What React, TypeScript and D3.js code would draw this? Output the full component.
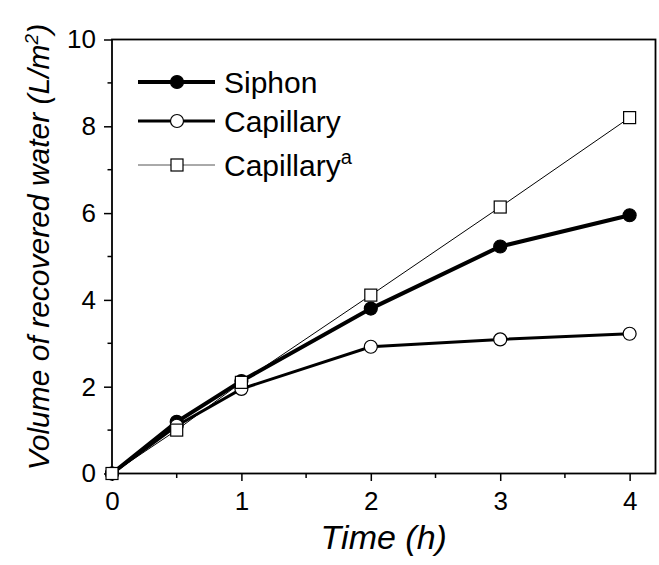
import React, { useEffect, useRef } from 'react';
import * as d3 from 'd3';

const times = [0, 0.5, 1, 2, 3, 4];
const siphon = [0, 1.19, 2.13, 3.8, 5.23, 5.95];
const capillary = [0, 1.1, 1.95, 2.92, 3.09, 3.22];
const capillaryA = [0, 1.0, 2.1, 4.11, 6.14, 8.2];
const xTicks = [0, 1, 2, 3, 4];
const yTicks = [0, 2, 4, 6, 8, 10];

export default function App() {
  const ref = useRef<SVGSVGElement>(null);
  const width = 659;
  const height = 565;
  const m = { top: 39.5, right: 3.5, bottom: 91.5, left: 112 };

  useEffect(() => {
    const svg = d3.select(ref.current);
    svg.selectAll('*').remove();
    const font = 'Liberation Sans, Arial, sans-serif';

    const x = d3.scaleLinear().domain([0, 4.2]).range([m.left, width - m.right]);
    const y = d3.scaleLinear().domain([0, 10]).range([height - m.bottom, m.top]);

    // minor ticks
    const xMinor = d3.range(0.5, 4.2, 1);
    const yMinor = d3.range(1, 10, 2);
    svg.append('g').selectAll('line').data(xMinor).join('line')
      .attr('x1', d => x(d)).attr('x2', d => x(d))
      .attr('y1', y(0)).attr('y2', y(0) + 4.5)
      .attr('stroke', '#000').attr('stroke-width', 1.5);
    svg.append('g').selectAll('line').data(yMinor).join('line')
      .attr('y1', d => y(d)).attr('y2', d => y(d))
      .attr('x1', x(0)).attr('x2', x(0) - 4.5)
      .attr('stroke', '#000').attr('stroke-width', 1.5);

    // axes
    const xAxis = d3.axisBottom(x).tickValues(xTicks).tickSize(7.5).tickPadding(11)
      .tickFormat(d3.format('d'));
    const yAxis = d3.axisLeft(y).tickValues(yTicks).tickSize(8).tickPadding(8)
      .tickFormat(d3.format('d'));
    const gx = svg.append('g').attr('transform', `translate(0,${y(0)})`).call(xAxis);
    const gy = svg.append('g').attr('transform', `translate(${x(0)},0)`).call(yAxis);
    [gx, gy].forEach(g => {
      g.select('.domain').remove();
      g.selectAll('.tick line').attr('stroke-width', 1.5);
      g.selectAll('.tick text').attr('font-family', font).attr('font-size', 26).attr('fill', '#000');
    });

    // frame
    svg.append('rect')
      .attr('x', x(0)).attr('y', y(10))
      .attr('width', x(4.2) - x(0)).attr('height', y(0) - y(10))
      .attr('fill', 'none').attr('stroke', '#000').attr('stroke-width', 1.8);

    const line = d3.line<number>().x((_, i) => x(times[i])).y(d => y(d));

    const series = [
      { name: 'Siphon', values: siphon, lw: 4, marker: 'circle', fill: '#000' },
      { name: 'Capillary', values: capillary, lw: 3, marker: 'circle', fill: '#fff' },
      { name: 'Capillary', sup: 'a', values: capillaryA, lw: 1, marker: 'square', fill: '#fff' },
    ];

    const drawMarker = (g: any, cx: number, cy: number, s: any) => {
      if (s.marker === 'circle') {
        g.append('circle').attr('cx', cx).attr('cy', cy).attr('r', 6.5)
          .attr('fill', s.fill).attr('stroke', '#000').attr('stroke-width', 1.2);
      } else {
        g.append('rect').attr('x', cx - 6).attr('y', cy - 6).attr('width', 12).attr('height', 12)
          .attr('fill', s.fill).attr('stroke', '#000').attr('stroke-width', 1.2);
      }
    };

    series.forEach(s => {
      const g = svg.append('g');
      g.append('path').attr('d', line(s.values))
        .attr('fill', 'none').attr('stroke', '#000').attr('stroke-width', s.lw);
      s.values.forEach((v, i) => drawMarker(g, x(times[i]), y(v), s));
    });

    // legend
    const lg = svg.append('g');
    const rowY = [82, 121, 165];
    series.forEach((s, i) => {
      const ly = rowY[i];
      lg.append('line').attr('x1', 138).attr('x2', 215).attr('y1', ly).attr('y2', ly)
        .attr('stroke', s.lw === 1 ? '#555' : '#000').attr('stroke-width', s.lw);
      drawMarker(lg, 177, ly, s);
      const t = lg.append('text').attr('x', 224).attr('y', ly + 11)
        .attr('font-family', font).attr('font-size', 30).attr('fill', '#000').text(s.name);
      if (s.sup) t.append('tspan').attr('dy', -12).attr('font-size', 20).text(s.sup);
    });

    // axis titles
    svg.append('text').attr('x', (x(0) + x(4.2)) / 2).attr('y', 549)
      .attr('text-anchor', 'middle').attr('font-family', font).attr('font-style', 'italic')
      .attr('font-size', 34).attr('fill', '#000').text('Time (h)');

    const yt = svg.append('text')
      .attr('transform', `translate(49,247) rotate(-90)`)
      .attr('text-anchor', 'middle').attr('font-family', font).attr('font-style', 'italic')
      .attr('font-size', 30).attr('fill', '#000');
    yt.append('tspan').text('Volume of recovered water (L/m');
    yt.append('tspan').attr('dy', -11).attr('font-size', 19).text('2');
    yt.append('tspan').attr('dy', 11).text(')');
  }, []);

  return (
    <svg ref={ref} width={width} height={height}
      style={{ position: 'absolute', left: 0, top: 0, background: '#fff' }} />
  );
}
